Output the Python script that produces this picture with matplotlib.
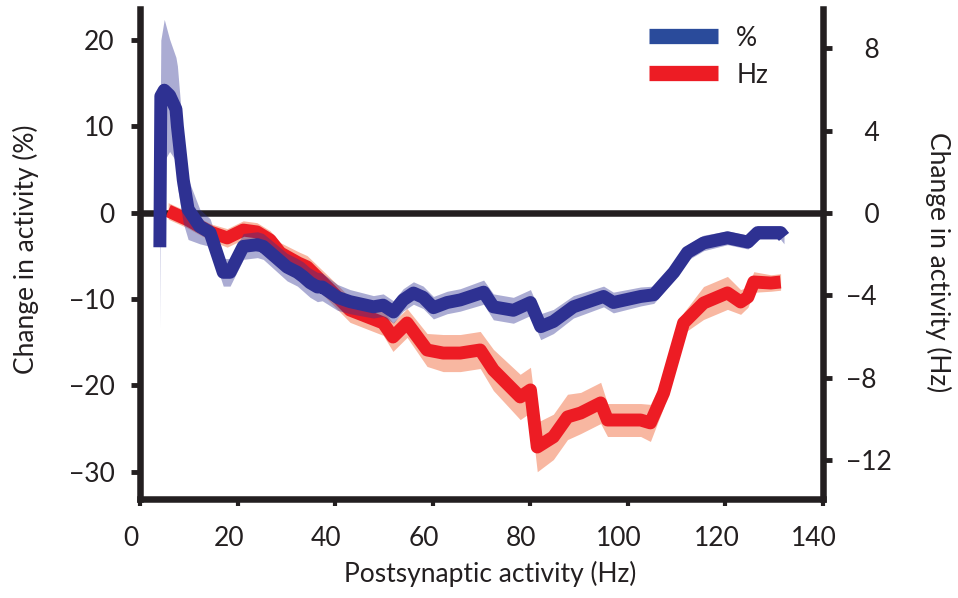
import numpy as np
import matplotlib
matplotlib.use('Agg')
import matplotlib.pyplot as plt
from matplotlib.lines import Line2D
from matplotlib.ticker import FuncFormatter
from matplotlib.transforms import ScaledTranslation

plt.rcParams['font.family'] = ['Lato', 'DejaVu Sans']
plt.rcParams['font.size'] = 19
ink = '#231f20'

# change in activity, in percent (left axis)
x_pct = [4.0, 4.2, 4.9, 6.0, 7.3, 7.6, 8.8, 9.8, 12.2, 14.3, 17.0, 18.4, 21.1, 24.0,
         25.2, 30.1, 32.2, 33.4, 34.8, 36.3, 37.3, 40.4, 43.0, 47.8, 49.8, 51.9, 53.9,
         56.0, 58.0, 60.1, 62.9, 65.6, 70.4, 72.4, 76.5, 80.0, 82.1, 84.7, 88.8, 95.0,
         97.0, 102.6, 105.3, 109.4, 112.2, 115.5, 120.4, 124.6, 126.6, 131.3, 132.0]
pct = [-4.0, 13.5, 14.2, 13.6, 12.0, 10.0, 3.8, 0.4, -1.6, -2.3, -6.9, -6.9, -3.9, -3.7,
       -3.9, -6.3, -6.9, -7.4, -8.1, -8.6, -8.6, -9.8, -10.3, -10.9, -10.7, -11.5, -10.1,
       -9.3, -9.8, -11.0, -10.4, -10.1, -9.2, -10.9, -11.3, -10.4, -13.2, -12.6, -10.9, -9.7,
       -10.4, -9.7, -9.5, -6.9, -4.6, -3.5, -2.9, -3.4, -2.3, -2.3, -2.8]
pct_sem = [9.5, 6.5, 8.2, 6.5, 6.0, 7.0, 5.0, 3.5, 2.0, 1.6, 1.6, 1.6, 1.5, 1.5,
           1.5, 1.6, 1.6, 1.7, 1.7, 1.7, 1.6, 1.5, 1.4, 1.3, 1.3, 1.3, 1.3,
           1.3, 1.3, 1.3, 1.3, 1.3, 1.4, 1.5, 1.5, 1.5, 1.5, 1.4, 1.3, 1.2,
           1.2, 1.1, 1.0, 0.9, 0.9, 0.9, 0.8, 0.8, 0.8, 0.8, 0.8]

# change in activity, in Hz (right axis)
x_hz = [5.7, 9.8, 11.6, 14.3, 17.8, 21.1, 23.9, 26.6, 28.7, 32.4, 34.2, 40.4, 43.0,
        49.8, 51.8, 54.7, 58.8, 62.1, 65.6, 69.7, 72.4, 77.9, 80.0, 81.4, 84.7, 87.6,
        90.3, 94.4, 95.8, 102.6, 104.6, 107.3, 111.4, 115.5, 120.4, 123.1, 124.6, 125.8,
        129.3, 131.3]
hz = [0.1, -0.34, -0.58, -0.92, -1.21, -0.83, -0.92, -1.31, -1.94, -2.43, -2.62, -4.08,
      -4.71, -5.34, -6.02, -5.34, -6.65, -6.8, -6.8, -6.65, -7.62, -8.93, -8.59, -11.36,
      -10.87, -9.9, -9.71, -9.22, -10.05, -10.05, -10.19, -8.74, -5.34, -4.37, -3.88,
      -4.32, -4.08, -3.35, -3.4, -3.35]
hz_sem = [0.4, 0.4, 0.4, 0.4, 0.45, 0.45, 0.45, 0.45, 0.5, 0.55, 0.55, 0.6, 0.6, 0.6,
          0.7, 0.7, 0.8, 0.9, 0.9, 0.9, 1.0, 1.1, 1.1, 1.2, 1.1, 1.1, 1.0, 1.0, 0.8,
          0.8, 0.9, 0.7, 0.5, 0.8, 0.8, 0.6, 0.5, 0.5, 0.4, 0.4]

pct_ticks = [-30, -20, -10, 0, 10, 20]
hz_ticks = [-12, -8, -4, 0, 4, 8]
x_ticks = [0, 20, 40, 60, 80, 100, 120, 140]

blue = '#2e3192'
red = '#ed1c24'

fig = plt.figure(figsize=(9.58, 5.98), dpi=100)
ax = fig.add_axes([0.1465, 0.165, 0.7126, 0.8199])   # Hz axis, drawn first
ax2 = ax.twinx()                                     # % axis, on top

x_hz_a, hz_a, hz_sem_a = map(np.array, (x_hz, hz, hz_sem))
x_pct_a, pct_a, pct_sem_a = map(np.array, (x_pct, pct, pct_sem))

ax.axhline(0, color=ink, lw=4.7, zorder=1)
ax.fill_between(x_hz_a, hz_a - hz_sem_a, hz_a + hz_sem_a, color='#f8b7a1', lw=0, zorder=2)
ax.plot(x_hz_a, hz_a, color=red, lw=9.3, solid_capstyle='butt',
        solid_joinstyle='round', zorder=3)

ax2.fill_between(x_pct_a, pct_a - pct_sem_a, pct_a + pct_sem_a, color=blue, alpha=0.4,
                 lw=0, zorder=2)
ax2.plot(x_pct_a, pct_a, color=blue, lw=9.3, solid_capstyle='butt',
         solid_joinstyle='round', zorder=3)

ax.set_xlim(0, 140)
ax.set_ylim(-13.9, 9.9)
ax2.set_ylim(-33.2, 23.6)

ax.yaxis.tick_right()
ax.yaxis.set_label_position('right')
ax2.yaxis.tick_left()
ax2.yaxis.set_label_position('left')

for s in ax.spines.values():
    s.set_linewidth(4.7)
    s.set_color(ink)
ax.spines['top'].set_visible(False)
for s in ax2.spines.values():
    s.set_visible(False)

ax.set_xticks(x_ticks)
ax.set_yticks(hz_ticks)
ax2.set_yticks(pct_ticks)
# positive Hz labels get leading space so the digits line up after the minus
ax.yaxis.set_major_formatter(FuncFormatter(
    lambda v, p: ('\u2007\u2009' if v >= 0 else '\u2212') + f'{abs(v):g}'))
ax.tick_params(axis='x', direction='out', length=5, width=3, color=ink,
               labelcolor=ink, pad=14)
ax.tick_params(axis='y', direction='out', length=6.5, width=3.5, color=ink,
               labelcolor=ink, pad=10, labelright=True, labelleft=False)
ax2.tick_params(axis='y', direction='out', length=6.5, width=3.5, color=ink,
                labelcolor=ink, pad=12)
ax2.tick_params(axis='x', bottom=False, labelbottom=False)

ax.set_xlabel('Postsynaptic activity (Hz)', color=ink)
ax.set_ylabel('Change in activity (Hz)', color=ink, rotation=270)
ax2.set_ylabel('Change in activity (%)', color=ink)
ax.xaxis.set_label_coords(0.513, -0.125)
ax.yaxis.set_label_coords(1.168, 0.484)
ax2.yaxis.set_label_coords(-0.1675, 0.51)
ax.yaxis.label.set_va('center')
ax2.yaxis.label.set_va('center')

# x tick labels sit a little left of their ticks
for t in ax.get_xticklabels():
    t.set_transform(t.get_transform() + ScaledTranslation(-9 / 100, 0, fig.dpi_scale_trans))

handles = [Line2D([], [], color='#2a4b9b', lw=11, solid_capstyle='butt'),
           Line2D([], [], color=red, lw=11, solid_capstyle='butt')]
leg = fig.legend(handles, ['%', 'Hz'], loc='upper left', bbox_to_anchor=(0.6775, 0.957),
                 frameon=False, borderpad=0, borderaxespad=0, handlelength=2.6,
                 handletextpad=0.7, labelspacing=0.45)
for t in leg.get_texts():
    t.set_color(ink)

fig.savefig('out.png', dpi=100)
